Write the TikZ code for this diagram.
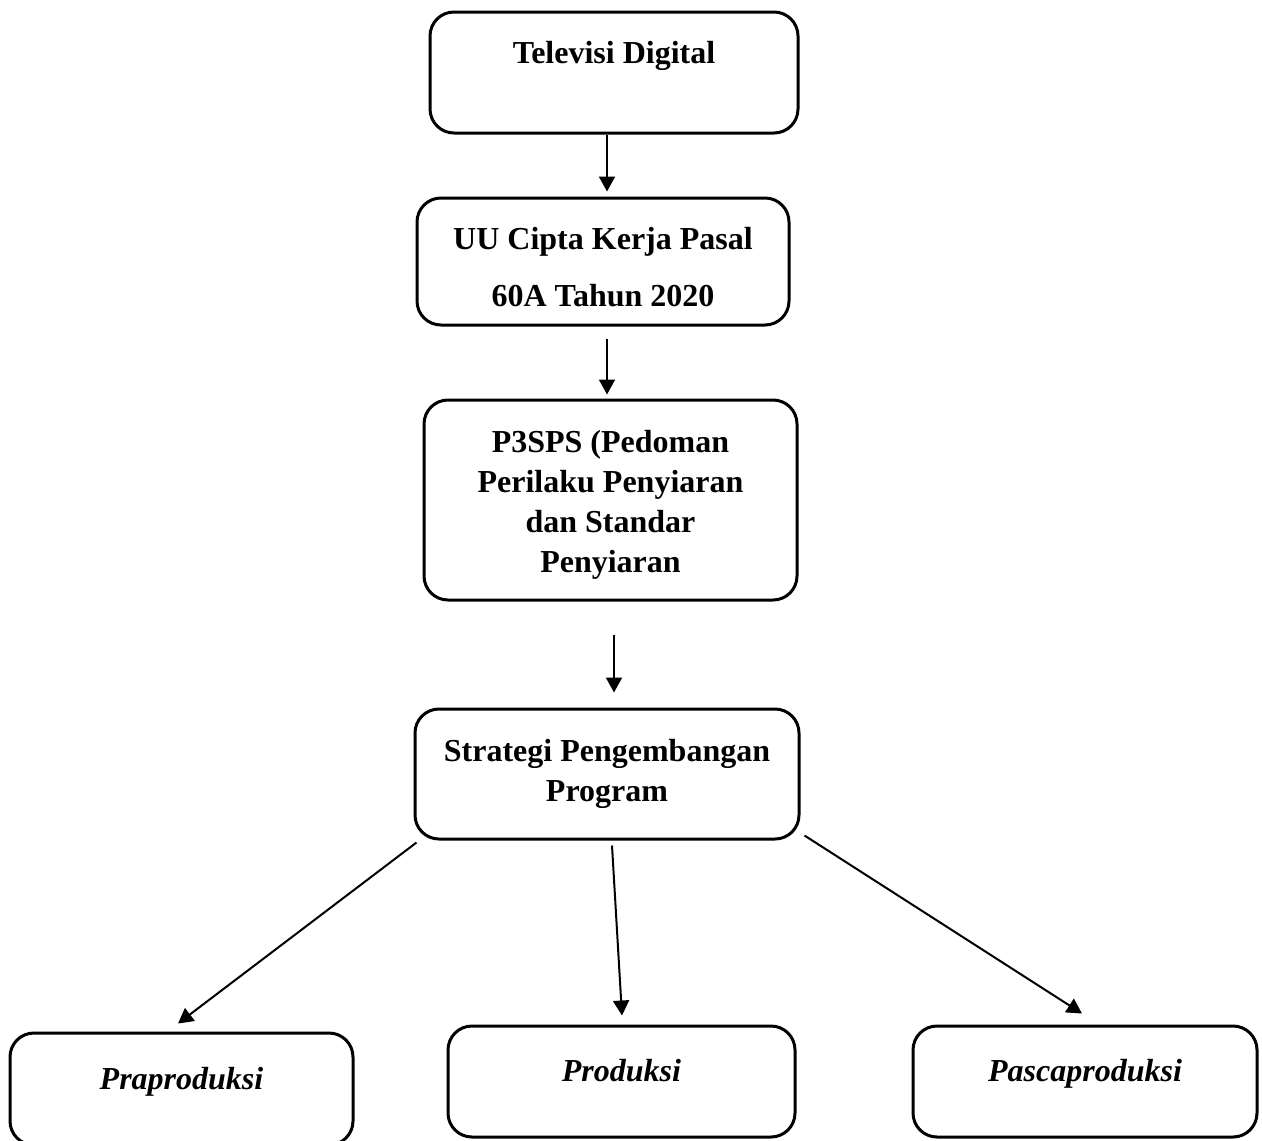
\documentclass[tikz,border=0pt]{standalone}
\usepackage{fontspec}
\setmainfont{Liberation Serif}
\usepackage{tikz}
\usetikzlibrary{arrows.meta,positioning}

\begin{document}
\begin{tikzpicture}[x=.5pt,y=-.5pt,
  box/.style={draw,line width=1.5pt,rounded corners=12pt,align=center,
    inner sep=0pt,font=\fontsize{16}{20}\selectfont\bfseries},
  stage/.style={box,text height=11pt,text depth=11pt,
    font=\fontsize{16}{20}\selectfont\bfseries\itshape},
  arr/.style={line width=1pt,-{Triangle[length=7.5pt,width=8pt]}}]
\useasboundingbox (0,0) rectangle (1262,1140);
\node[box,minimum width=184pt,minimum height=60.5pt] (tv) at (614,72.5) {Televisi Digital\\\mbox{}};
\node[box,minimum width=186pt,minimum height=63.5pt] (uu) at (603,261.5)
  {\rule{0pt}{17pt}UU Cipta Kerja Pasal\\[8.5pt]60A Tahun 2020};
\node[box,minimum width=186.5pt,minimum height=100pt] (p3) at (610.5,500)
  {\rule{0pt}{15.5pt}P3SPS (Pedoman\\Perilaku Penyiaran\\dan Standar\\Penyiaran};
\node[box,minimum width=192pt,minimum height=65pt] (strat) at (607,774)
  {Strategi Pengembangan\\Program};
\node[stage,minimum width=171.5pt,minimum height=56pt] (pra) at (181.5,1089) {Praproduksi};
\node[stage,minimum width=173.5pt,minimum height=55.5pt] (prod) at (621.5,1081.5) {Produksi};
\node[stage,minimum width=172pt,minimum height=55.5pt] (pasca) at (1085,1081.5) {Pascaproduksi};
% alur
\draw[arr] ([xshift=-3.5pt]tv.south) -- ([xshift=2pt,yshift=2.5pt]uu.north);
\draw[arr] ([xshift=2pt,yshift=-6pt]uu.south) -- ([xshift=-1.75pt,yshift=2pt]p3.north);
\draw[arr] ([xshift=1.75pt,yshift=-16.5pt]p3.south) -- ([xshift=3.5pt,yshift=7.5pt]strat.north);
\draw[arr] ([xshift=1.5pt,yshift=-1pt]strat.south west) -- ([xshift=-1.75pt,yshift=4pt]pra.north);
\draw[arr] ([xshift=2.5pt,yshift=-2.5pt]strat.south) -- ([xshift=.25pt,yshift=4.5pt]prod.north);
\draw[arr] ([xshift=2pt,yshift=2.5pt]strat.south east) -- ([xshift=-1.5pt,yshift=5.5pt]pasca.north);
\end{tikzpicture}
\end{document}
